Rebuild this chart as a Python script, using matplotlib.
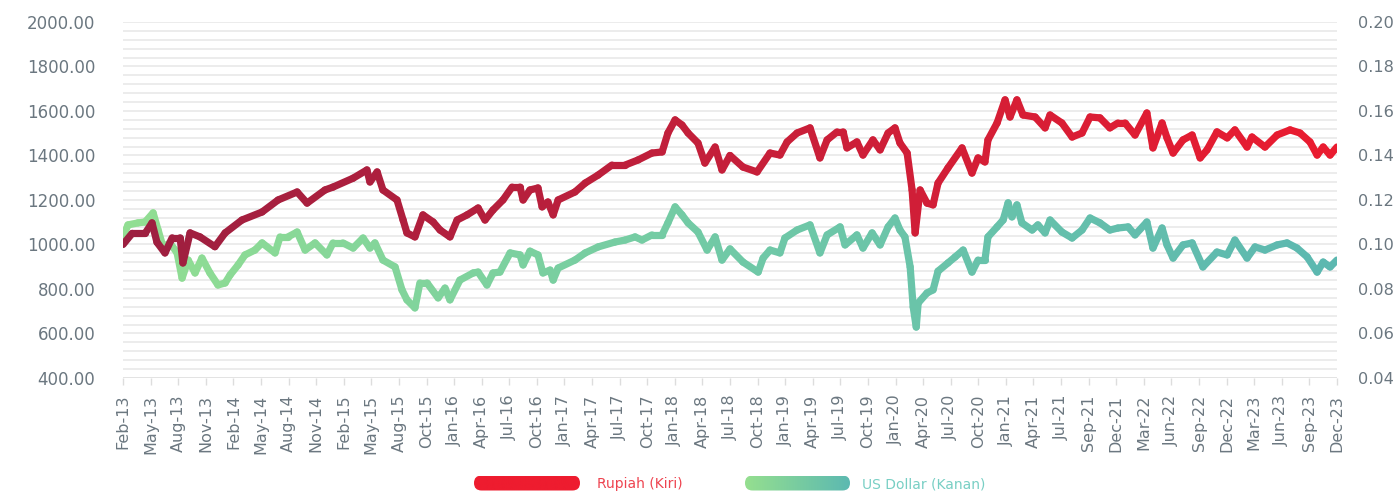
import numpy as np
import matplotlib
matplotlib.use("Agg")
import matplotlib.pyplot as plt
from matplotlib.collections import LineCollection
from matplotlib.colors import LinearSegmentedColormap
from matplotlib.patches import FancyBboxPatch

# ---------------- data ----------------
tick_labels = ["Feb-13", "May-13", "Aug-13", "Nov-13", "Feb-14", "May-14", "Aug-14", "Nov-14",
               "Feb-15", "May-15", "Aug-15", "Oct-15", "Jan-16", "Apr-16", "Jul-16", "Oct-16",
               "Jan-17", "Apr-17", "Jul-17", "Oct-17", "Jan-18", "Apr-18", "Jul-18", "Oct-18",
               "Jan-19", "Apr-19", "Jul-19", "Oct-19", "Jan-20", "Apr-20", "Jul-20", "Oct-20",
               "Jan-21", "Apr-21", "Jul-21", "Sep-21", "Dec-21", "Mar-22", "Jun-22", "Sep-22",
               "Dec-22", "Mar-23", "Jun-23", "Sep-23", "Dec-23"]

# time position in tick-period units (0 = Feb-13, 44 = Dec-23)
rupiah_t = [0.00, 0.33, 0.80, 1.05, 1.23, 1.52, 1.78, 2.07, 2.17, 2.43, 2.79, 3.33, 3.70, 4.31,
            5.04, 5.62, 6.31, 6.67, 7.32, 7.61, 8.34, 8.84, 8.95, 9.21, 9.42, 9.93, 10.15, 10.29,
            10.58, 10.87, 11.24, 11.49, 11.85, 12.11, 12.47, 12.87, 13.12, 13.41, 13.77, 14.10,
            14.39, 14.50, 14.75, 15.04, 15.19, 15.40, 15.59, 15.77, 16.38, 16.75, 17.22, 17.72,
            18.20, 18.67, 19.17, 19.54, 19.75, 20.01, 20.26, 20.48, 20.84, 21.09, 21.46, 21.71,
            22.00, 22.47, 22.98, 23.45, 23.81, 24.07, 24.43, 24.90, 25.26, 25.52, 25.88, 26.10,
            26.24, 26.60, 26.82, 27.18, 27.44, 27.73, 27.98, 28.16, 28.42, 28.60, 28.71, 28.89,
            29.14, 29.36, 29.54, 29.90, 30.41, 30.77, 30.99, 31.24, 31.35, 31.68, 31.97, 32.15,
            32.40, 32.62, 33.06, 33.42, 33.60, 34.03, 34.40, 34.76, 35.05, 35.41, 35.77, 36.06,
            36.32, 36.68, 37.11, 37.33, 37.66, 37.84, 38.06, 38.42, 38.75, 39.04, 39.29, 39.65,
            40.02, 40.30, 40.74, 40.92, 41.39, 41.83, 42.30, 42.66, 43.02, 43.28, 43.50, 43.75,
            44.00]
rupiah_v = [1000, 1050, 1050, 1097, 1010, 962, 1030, 1030, 917, 1052, 1034, 990, 1052, 1110,
            1146, 1200, 1236, 1186, 1245, 1258, 1298, 1335, 1281, 1326, 1245, 1200, 1110, 1052,
            1034, 1133, 1101, 1065, 1034, 1110, 1133, 1164, 1110, 1155, 1200, 1258,
            1258, 1200, 1245, 1254, 1169, 1191, 1133, 1200, 1236, 1276, 1312, 1357,
            1357, 1380, 1411, 1416, 1501, 1560, 1537, 1501, 1456, 1366, 1438, 1335,
            1400, 1348, 1326, 1411, 1402, 1461, 1501, 1524, 1389, 1470, 1506, 1506,
            1434, 1461, 1402, 1470, 1425, 1501, 1524, 1456, 1411, 1245, 1052, 1245,
            1186, 1178, 1276, 1344, 1434, 1321, 1389, 1371, 1470, 1546, 1650, 1573,
            1650, 1582, 1573, 1524, 1582, 1546, 1483, 1501, 1573, 1569, 1524, 1546,
            1546, 1492, 1591, 1434, 1546, 1479, 1411, 1470, 1492, 1389, 1425, 1506,
            1479, 1515, 1438, 1483, 1438, 1492, 1515, 1501, 1461, 1402, 1438, 1402,
            1438]

usd_t = [0.00, 0.18, 0.54, 0.80, 1.09, 1.27, 1.45, 1.70, 1.96, 2.14, 2.36, 2.61, 2.86, 3.15,
         3.44, 3.70, 3.88, 4.17, 4.42, 4.78, 5.04, 5.51, 5.69, 5.98, 6.31, 6.60, 6.96, 7.39,
         7.61, 7.97, 8.34, 8.70, 8.95, 9.13, 9.42, 9.86, 10.11, 10.29, 10.58, 10.76, 11.02,
         11.42, 11.67, 11.85, 12.21, 12.69, 12.87, 13.19, 13.41, 13.66, 14.03, 14.39, 14.50,
         14.75, 15.04, 15.22, 15.48, 15.59, 15.77, 16.38, 16.75, 17.22, 17.83, 18.20, 18.56,
         18.81, 19.17, 19.54, 19.75, 20.01, 20.26, 20.48, 20.84, 21.17, 21.46, 21.71, 22.00,
         22.47, 23.02, 23.20, 23.45, 23.81, 23.99, 24.43, 24.90, 25.26, 25.52, 25.99, 26.17,
         26.60, 26.82, 27.15, 27.44, 27.73, 27.98, 28.16, 28.34, 28.53, 28.64, 28.75, 28.82,
         29.14, 29.36, 29.54, 29.90, 30.16, 30.45, 30.77, 30.99, 31.24, 31.35, 31.68, 31.90,
         32.08, 32.22, 32.40, 32.58, 32.95, 33.16, 33.42, 33.60, 34.03, 34.40, 34.76, 35.05,
         35.41, 35.77, 36.06, 36.43, 36.68, 37.11, 37.33, 37.66, 37.84, 38.06, 38.42, 38.75,
         39.14, 39.65, 40.02, 40.30, 40.74, 41.03, 41.39, 41.83, 42.19, 42.55, 42.92, 43.28,
         43.50, 43.75, 44.00]
usd_v = [0.1034, 0.1088, 0.1097, 0.1101, 0.1142, 0.1065, 0.0989, 0.1007, 0.0962, 0.0849, 0.0930,
         0.0872, 0.0939, 0.0872, 0.0818, 0.0827, 0.0863, 0.0908, 0.0953, 0.0975, 0.1007, 0.0962,
         0.1034, 0.1034, 0.1056, 0.0975, 0.1007, 0.0953, 0.1007, 0.1007, 0.0984, 0.1029, 0.0984,
         0.1007, 0.0930, 0.0899, 0.0796, 0.0751, 0.0715, 0.0827, 0.0827, 0.0760, 0.0804, 0.0751,
         0.0840, 0.0872, 0.0876, 0.0818, 0.0872, 0.0876, 0.0962, 0.0953, 0.0908, 0.0970, 0.0953,
         0.0872, 0.0885, 0.0840, 0.0894, 0.0930, 0.0962, 0.0989, 0.1011, 0.1020, 0.1034, 0.1020,
         0.1043, 0.1043, 0.1097, 0.1169, 0.1133, 0.1097, 0.1056, 0.0975, 0.1034, 0.0930, 0.0980,
         0.0921, 0.0876, 0.0939, 0.0975, 0.0962, 0.1029, 0.1065, 0.1088, 0.0962, 0.1043, 0.1079,
         0.0998, 0.1043, 0.0984, 0.1052, 0.0998, 0.1079, 0.1119, 0.1065, 0.1034, 0.0899, 0.0719,
         0.0629, 0.0737, 0.0782, 0.0796, 0.0880, 0.0917, 0.0944, 0.0975, 0.0876, 0.0930, 0.0930,
         0.1034, 0.1079, 0.1110, 0.1187, 0.1124, 0.1178, 0.1097, 0.1065, 0.1088, 0.1052, 0.1110,
         0.1056, 0.1029, 0.1065, 0.1119, 0.1097, 0.1065, 0.1074, 0.1079, 0.1043, 0.1101, 0.0984,
         0.1074, 0.0998, 0.0939, 0.0998, 0.1007, 0.0899, 0.0966, 0.0953, 0.1020, 0.0939, 0.0989,
         0.0975, 0.0998, 0.1007, 0.0984, 0.0944, 0.0876, 0.0921, 0.0899, 0.0930]

left_ticks = [400, 600, 800, 1000, 1200, 1400, 1600, 1800, 2000]
right_ticks = [0.04, 0.06, 0.08, 0.10, 0.12, 0.14, 0.16, 0.18, 0.20]
legend_labels = ["Rupiah (Kiri)", "US Dollar (Kanan)"]

# ---------------- style ----------------
red_cmap = LinearSegmentedColormap.from_list("red", ["#9C1F40", "#C51F3A", "#EA1C30"])
green_cmap = LinearSegmentedColormap.from_list("green", ["#92DE92", "#70C9A6", "#5CB8B0"])
label_color = "#6B7780"
grid_color = "#EAEAEA"
FONT = "DejaVu Sans"

fig = plt.figure(figsize=(13.95, 4.93), dpi=100)
ax = fig.add_axes([0.0882, 0.2333, 0.8702, 0.7221])
ax2 = ax.twinx()
ax.set_zorder(ax2.get_zorder() + 1)
ax.patch.set_visible(False)

n_ticks = len(tick_labels)
ax.set_xlim(0, n_ticks - 1)
ax.set_ylim(400, 2000)
ax2.set_ylim(0.04, 0.20)

for g in np.arange(440, 2001, 40):
    ax2.axhline(g * 1e-4, color=grid_color, lw=1.3, zorder=0)
ax2.axhline(0.04, color="#E0E0E0", lw=1.3, zorder=0)


def grad_line(axis, t, v, cmap, lw):
    pts = np.column_stack([t, v]).reshape(-1, 1, 2)
    segs = np.concatenate([pts[:-1], pts[1:]], axis=1)
    tt = np.asarray(t)
    mids = (tt[:-1] + tt[1:]) / 2 / (n_ticks - 1)
    lc = LineCollection(segs, colors=cmap(mids), linewidths=lw,
                        capstyle="round", joinstyle="round", zorder=3)
    axis.add_collection(lc)


grad_line(ax2, usd_t, usd_v, green_cmap, 5.2)
grad_line(ax, rupiah_t, rupiah_v, red_cmap, 5.2)

for s in list(ax.spines.values()) + list(ax2.spines.values()):
    s.set_visible(False)

ax.set_xticks(range(n_ticks))
ax.set_xticklabels(tick_labels, rotation=90, fontsize=11.5, color=label_color, family=FONT)
ax.tick_params(axis="x", length=5, width=1, color="#DDDDDD", pad=7)
ax.set_yticks(left_ticks)
ax.set_yticklabels([f"{v:.2f}" for v in left_ticks], fontsize=12, color=label_color, family=FONT)
ax.tick_params(axis="y", length=0, pad=20)
ax2.set_yticks(right_ticks)
ax2.set_yticklabels([f"{v:.2f}" for v in right_ticks], fontsize=11.6, color=label_color, family=FONT)
ax2.tick_params(axis="y", length=0, pad=15)

# ---------------- legend ----------------
W, H = 1395.0, 493.0


def legend_bar(x0, x1, yc, h, colors):
    lax = fig.add_axes([x0 / W, 1 - (yc + h / 2) / H, (x1 - x0) / W, h / H])
    lax.set_axis_off()
    grad = np.linspace(0, 1, 256).reshape(1, -1)
    cm = LinearSegmentedColormap.from_list("lg", colors)
    im = lax.imshow(grad, aspect="auto", cmap=cm, extent=[0, x1 - x0, 0, h])
    lax.set_xlim(0, x1 - x0)
    lax.set_ylim(0, h)
    patch = FancyBboxPatch((0, 0), x1 - x0, h,
                           boxstyle=f"round,pad=0,rounding_size={h/2}",
                           transform=lax.transData, facecolor="none", edgecolor="none")
    lax.add_patch(patch)
    im.set_clip_path(patch)


legend_bar(474, 580, 483, 15, ["#EE1C2F", "#EE1C2F"])
fig.text(597 / W, 1 - 484 / H, legend_labels[0], color="#EE4450", fontsize=10,
         va="center", ha="left", family=FONT)
legend_bar(745, 850, 483, 15, ["#95DF8F", "#5CB9B1"])
fig.text(862 / W, 1 - 484 / H, legend_labels[1], color="#78CFC4", fontsize=10,
         va="center", ha="left", family=FONT)

fig.savefig("out.png", dpi=100)
